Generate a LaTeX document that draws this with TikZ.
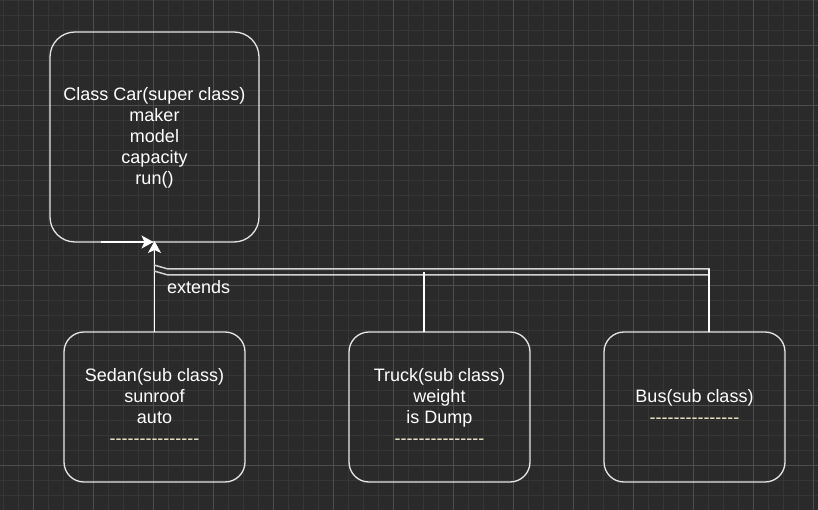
\documentclass[tikz,border=0pt]{standalone}
\usepackage{fontspec}
\setmainfont{Liberation Sans}
\usetikzlibrary{arrows.meta}
\definecolor{bg}{HTML}{2A2A2A}
\definecolor{minorgrid}{HTML}{363636}
\definecolor{majorgrid}{HTML}{4E4E4E}
\definecolor{edge}{HTML}{E6E6E6}
\definecolor{wire}{HTML}{D4D4D4}
\definecolor{dashcol}{HTML}{F4ECCF}
\newcommand{\dashrow}{\textcolor{dashcol}{-{}-{}-{}-{}-{}-{}-{}-{}-{}-{}-{}-{}-{}-{}-}}
\begin{document}
\begin{tikzpicture}[x=1pt,y=-1pt,
  classbox/.style={draw=edge, line width=1.3pt, rounded corners=20pt},
  label/.style={text=white, font=\fontsize{18}{21}\selectfont, align=center, inner sep=0pt},
  wireline/.style={draw=wire, line width=1.5pt},
  link/.style={draw=white, line width=1.3pt},
  tip/.style={-{Stealth[length=12pt,width=13pt,inset=3pt]}, draw=white, line width=1.3pt}
]
\useasboundingbox (0,0) rectangle (818,510);
\fill[bg] (0,0) rectangle (818,510);
% grid
\foreach \x in {3,18,...,818} \draw[minorgrid, line width=0.8pt] (\x,0) -- (\x,510);
\foreach \y in {0,15,...,510} \draw[minorgrid, line width=0.8pt] (0,\y) -- (818,\y);
\foreach \x in {33,93,...,818} \draw[majorgrid, line width=0.8pt] (\x,0) -- (\x,510);
\foreach \y in {45,105,...,510} \draw[majorgrid, line width=0.8pt] (0,\y) -- (818,\y);

% boxes
\draw[classbox, rounded corners=25pt] (50,32) rectangle (259,242);
\draw[classbox] (64,332) rectangle (245,482);
\draw[classbox] (349,332) rectangle (530,482);
\draw[classbox] (604,332) rectangle (785,482);

\node[coordinate] (car) at (154.5,242) {};
\node[coordinate] (sedan) at (154.5,332) {};
\node[coordinate] (truck) at (424,332) {};
\node[coordinate] (bus) at (709,332) {};

\node[label] (cartext) at (154.5,138) {Class Car(super class)\\maker\\model\\capacity\\run()};
\node[label] (sedantext) at (154.5,406) {Sedan(sub class)\\sunroof\\auto\\\dashrow};
\node[label] (trucktext) at (439.5,406) {Truck(sub class)\\weight\\is Dump\\\dashrow};
\node[label] (bustext) at (694.5,406) {Bus(sub class)\\\dashrow};

% connectors
\coordinate (lstart) at (101,242);
\draw[tip] (lstart) -- ([xshift=-1pt]car);
\draw[tip] (sedan) -- ([yshift=1pt]car);

\coordinate (j1) at (168,269);
\coordinate (j2) at (168,275);
\coordinate (e1) at (154,265);
\coordinate (e2) at (154,271);
\draw[wireline] (bus) -- (709,269) -- (j1) -- (e1);
\draw[wireline] (709,275) -- (j2) -- (e2);
\draw[link] (truck) -- (424,272);
\draw[link] (bus) -- (709,269);

\node[text=white, font=\fontsize{18}{21}\selectfont, anchor=west, inner sep=0pt] (ext) at (167,287) {extends};
\end{tikzpicture}
\end{document}
